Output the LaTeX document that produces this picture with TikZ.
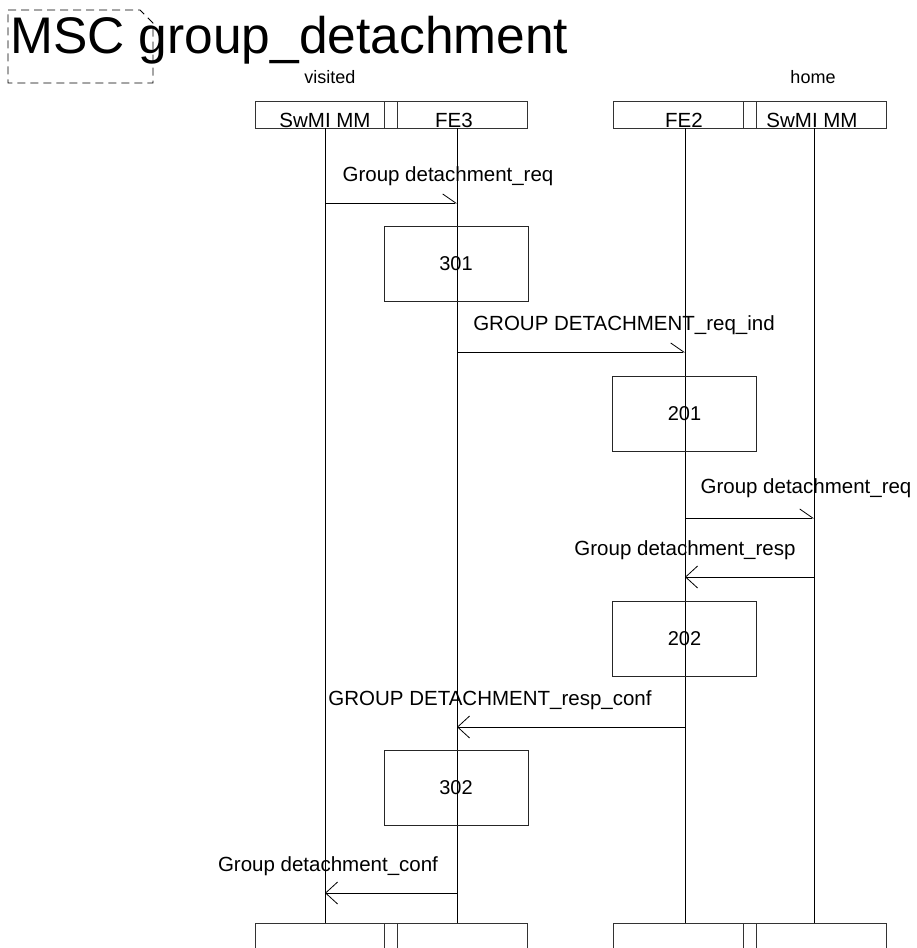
\documentclass[tikz,border=0pt]{standalone}
\usepackage{fontspec}
\setmainfont{Liberation Sans}
\usetikzlibrary{arrows.meta}
\begin{document}
\begin{tikzpicture}[x=1pt,y=-1pt,
  ln/.style={line width=0.8pt},
  hd/.style={draw=black!80, line width=0.8pt},
  procbox/.style={draw=black!85, line width=0.8pt, minimum width=144pt, minimum height=75pt, inner sep=0pt, font=\fontsize{20}{24}\selectfont},
  msg/.style={font=\fontsize{20.5}{24}\selectfont, anchor=base, inner sep=0pt},
  nm/.style={font=\fontsize{20.5}{24}\selectfont, anchor=base, inner sep=0pt},
  side/.style={font=\fontsize{18}{22}\selectfont, anchor=base, inner sep=0pt},
  rarr/.style={ln, -{Straight Barb[harpoon, length=13pt, width=18pt]}},
  larr/.style={ln, -{Straight Barb[length=12pt, width=22pt]}},
]
\useasboundingbox (0,0) rectangle (916,948);
\clip (0,0) rectangle (916,948);

% frame / title
\draw[line width=0.8pt, dash pattern=on 8pt off 5pt] (8,10) -- (140,10) -- (153,23) -- (153,83) -- (8,83) -- cycle;
\node[anchor=base west, inner sep=0pt, font=\fontsize{51.5}{60}\selectfont] (title) at (10,53) {MSC group\_detachment};

% side labels
\node[side] (visited) at (330,83) {visited};
\node[side] (home) at (813,83) {home};

% header boxes
\draw[hd] (255,101) rectangle (527,128);
\draw[hd] (384,101) rectangle (397,128);
\draw[hd] (613,101) rectangle (886,128);
\draw[hd] (743,101) rectangle (756,128);
\node[nm] (n1) at (325,127) {SwMI MM};
\node[nm] (n2) at (454,127) {FE3};
\node[nm] (n3) at (684,127) {FE2};
\node[nm] (n4) at (812,127) {SwMI MM};

% bottom boxes
\draw[hd] (255,923) rectangle (527,960);
\draw[hd] (384,923) rectangle (397,960);
\draw[hd] (613,923) rectangle (886,960);
\draw[hd] (743,923) rectangle (756,960);

% lifeline coordinates
\coordinate (A0) at (325,128); \coordinate (A1) at (325,923);
\coordinate (B0) at (457,128); \coordinate (B1) at (457,923);
\coordinate (C0) at (685,128); \coordinate (C1) at (685,923);
\coordinate (D0) at (814,128); \coordinate (D1) at (814,923);
\draw[ln] (A0) -- (A1);
\draw[ln] (B0) -- (B1);
\draw[ln] (C0) -- (C1);
\draw[ln] (D0) -- (D1);

% process boxes
\node[procbox] (p301) at (456,264) {301};
\node[procbox] (p201) at (684.5,413.5) {201};
\node[procbox] (p202) at (684.5,638.5) {202};
\node[procbox] (p302) at (456,787.5) {302};

% message endpoints
\coordinate (m1a) at (325,203); \coordinate (m1b) at (457,203);
\coordinate (m2a) at (457,352); \coordinate (m2b) at (685,352);
\coordinate (m3a) at (685,518); \coordinate (m3b) at (814,518);
\coordinate (m4a) at (814,577); \coordinate (m4b) at (685,577);
\coordinate (m5a) at (685,727); \coordinate (m5b) at (457,727);
\coordinate (m6a) at (457,893); \coordinate (m6b) at (325,893);

\draw[rarr] (m1a) -- (m1b);
\draw[rarr] (m2a) -- (m2b);
\draw[rarr] (m3a) -- (m3b);
\draw[larr] (m4a) -- (m4b);
\draw[larr] (m5a) -- (m5b);
\draw[larr] (m6a) -- (m6b);

\node[msg] (l1) at (448,181) {Group detachment\_req};
\node[msg] (l2) at (624,330) {GROUP DETACHMENT\_req\_ind};
\node[msg] (l3) at (806,493) {Group detachment\_req};
\node[msg] (l4) at (685,555) {Group detachment\_resp};
\node[msg] (l5) at (490,705) {GROUP DETACHMENT\_resp\_conf};
\node[msg] (l6) at (328,871) {Group detachment\_conf};
\end{tikzpicture}
\end{document}
